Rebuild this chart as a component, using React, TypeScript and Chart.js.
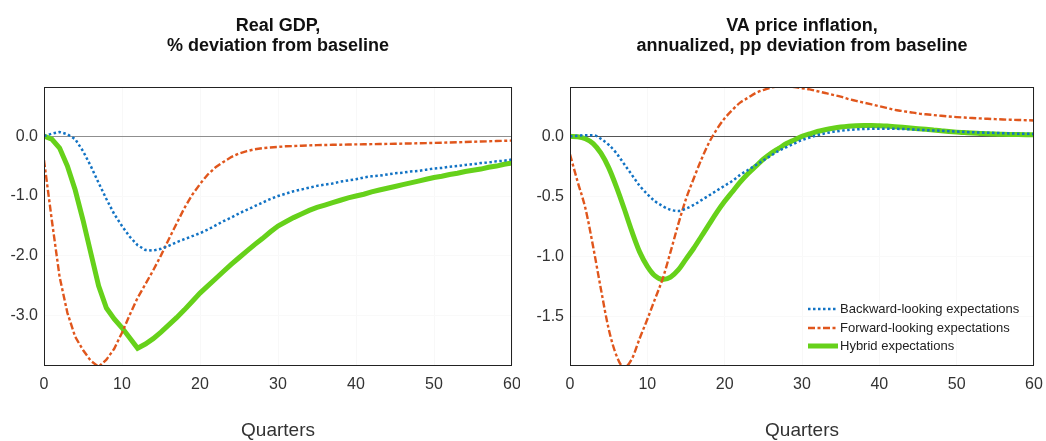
import React, { useEffect, useRef } from "react";
import { Chart, registerables } from "chart.js";

Chart.register(...registerables);

// ---------------- data ----------------
const quarters = [
  0, 1, 2, 3, 4, 5, 6, 7, 8, 9, 10, 11, 12, 13, 14, 15, 16, 17, 18, 19, 20,
  21, 22, 23, 24, 25, 26, 27, 28, 29, 30, 31, 32, 33, 34, 35, 36, 37, 38, 39, 40,
  41, 42, 43, 44, 45, 46, 47, 48, 49, 50, 51, 52, 53, 54, 55, 56, 57, 58, 59, 60,
];

const seriesLabels = [
  "Backward-looking expectations",
  "Forward-looking expectations",
  "Hybrid expectations",
];

// Real GDP, % deviation from baseline
const gdpBackward = [
  0, 0.04, 0.07, 0.03, -0.05, -0.25, -0.5, -0.78, -1.05, -1.3,
  -1.5, -1.68, -1.82, -1.9, -1.91, -1.88, -1.83, -1.77, -1.72, -1.67,
  -1.62, -1.56, -1.49, -1.42, -1.36, -1.29, -1.23, -1.17, -1.11, -1.05,
  -1.0, -0.96, -0.92, -0.89, -0.86, -0.83, -0.81, -0.79, -0.76, -0.74,
  -0.72, -0.69, -0.67, -0.66, -0.64, -0.62, -0.61, -0.59, -0.58, -0.56,
  -0.54, -0.53, -0.51, -0.5, -0.48, -0.47, -0.45, -0.44, -0.42, -0.41,
  -0.39,
];
const gdpForward = [
  -0.4, -1.4, -2.35, -2.95, -3.35, -3.57, -3.75, -3.85, -3.73, -3.55,
  -3.28, -2.98, -2.7, -2.47, -2.24, -1.99, -1.72, -1.46, -1.2, -0.98,
  -0.8, -0.64, -0.52, -0.43, -0.35, -0.29, -0.25, -0.22, -0.2, -0.19,
  -0.18, -0.17, -0.165, -0.16, -0.155, -0.15, -0.148, -0.145, -0.143, -0.14,
  -0.138, -0.136, -0.134, -0.132, -0.13, -0.128, -0.125, -0.122, -0.119, -0.116,
  -0.113, -0.11, -0.106, -0.102, -0.098, -0.094, -0.09, -0.086, -0.082, -0.078,
  -0.074,
];
const gdpHybrid = [
  0, -0.05, -0.2, -0.5, -0.9, -1.4, -1.95, -2.5, -2.87, -3.05,
  -3.2, -3.37, -3.54, -3.47, -3.38, -3.27, -3.15, -3.03, -2.9, -2.76,
  -2.62, -2.5, -2.38, -2.26, -2.14, -2.03, -1.92, -1.81, -1.71, -1.6,
  -1.5, -1.43, -1.36, -1.3, -1.24, -1.19, -1.15, -1.11, -1.07, -1.03,
  -1.0, -0.97, -0.93, -0.9, -0.87, -0.84, -0.81, -0.78, -0.75, -0.72,
  -0.69, -0.67, -0.64, -0.62, -0.59, -0.57, -0.55, -0.52, -0.5, -0.47,
  -0.45,
];

// VA price inflation, annualized, pp deviation from baseline
const inflBackward = [
  0, 0.005, 0.01, 0.01, -0.02, -0.07, -0.14, -0.23, -0.32, -0.41,
  -0.48, -0.54, -0.58, -0.61, -0.62, -0.6, -0.57, -0.53, -0.49, -0.45,
  -0.41, -0.37, -0.32, -0.28, -0.24, -0.2, -0.16, -0.12, -0.09, -0.06,
  -0.03, -0.01, 0.01, 0.025, 0.037, 0.046, 0.053, 0.058, 0.061, 0.063,
  0.064, 0.064, 0.063, 0.061, 0.058, 0.055, 0.052, 0.049, 0.046, 0.043,
  0.04, 0.037, 0.034, 0.032, 0.03, 0.028, 0.026, 0.024, 0.022, 0.021,
  0.02,
];
const inflForward = [
  -0.15, -0.38, -0.6, -0.92, -1.27, -1.6, -1.82, -1.92, -1.85, -1.68,
  -1.52, -1.35, -1.18, -0.96, -0.73, -0.52, -0.35, -0.19, -0.05, 0.06,
  0.15, 0.22, 0.28, 0.32, 0.36, 0.385, 0.405, 0.415, 0.415, 0.41,
  0.4, 0.39, 0.375, 0.36, 0.345, 0.33, 0.31, 0.295, 0.28, 0.265,
  0.25, 0.235, 0.22, 0.21, 0.2, 0.19, 0.183, 0.177, 0.171, 0.165,
  0.16, 0.156, 0.152, 0.149, 0.146, 0.143, 0.14, 0.138, 0.136, 0.134,
  0.132,
];
const inflHybrid = [
  0, -0.003, -0.02, -0.06, -0.14, -0.26, -0.42, -0.6, -0.79, -0.96,
  -1.08, -1.16, -1.19, -1.17, -1.11, -1.02, -0.93, -0.83, -0.73, -0.63,
  -0.54, -0.46, -0.38, -0.31, -0.25, -0.19, -0.14, -0.1, -0.06, -0.03,
  0.0, 0.02, 0.04, 0.055, 0.067, 0.077, 0.084, 0.088, 0.09, 0.09,
  0.088, 0.085, 0.08, 0.075, 0.07, 0.064, 0.058, 0.052, 0.046, 0.04,
  0.035, 0.031, 0.027, 0.024, 0.021, 0.019, 0.017, 0.016, 0.015, 0.014,
  0.013,
];

const xTicks = [0, 10, 20, 30, 40, 50, 60];
const gdpTicks = [0, -1, -2, -3];
const inflTicks = [0, -0.5, -1, -1.5];

const gdpTitle = ["Real GDP,", "% deviation from baseline"];
const inflTitle = ["VA price inflation,", "annualized, pp deviation from baseline"];
const xAxisTitle = "Quarters";

// ---------------- styling ----------------
const FONT = '"Liberation Sans", Arial, Helvetica, sans-serif';
const BLUE = "#1273c4";
const ORANGE = "#e0561c";
const GREEN = "#66d11a";

const decorPlugin = {
  id: "panelDecor",
  beforeDatasetsDraw(chart: any, _args: any, opts: any) {
    const { ctx, chartArea: a, scales } = chart;
    const y0 = Math.round(scales.y.getPixelForValue(0)) + 0.5;
    ctx.save();
    ctx.strokeStyle = opts.zeroColor || "#888";
    ctx.lineWidth = 1;
    ctx.beginPath();
    ctx.moveTo(a.left, y0);
    ctx.lineTo(a.right, y0);
    ctx.stroke();
    ctx.restore();
  },
  afterDraw(chart: any, _args: any, opts: any) {
    const { ctx, chartArea: a, data } = chart;
    ctx.save();
    // frame
    ctx.strokeStyle = "#222";
    ctx.lineWidth = 1;
    ctx.strokeRect(Math.round(a.left) + 0.5, Math.round(a.top) + 0.5, Math.round(a.right - a.left) - 1, Math.round(a.bottom - a.top));
    // title
    const cx = (a.left + a.right) / 2;
    ctx.fillStyle = "#111";
    ctx.font = `bold 18px ${FONT}`;
    ctx.textAlign = "center";
    ctx.textBaseline = "alphabetic";
    (opts.title || []).forEach((line: string, i: number) => {
      ctx.fillText(line, cx, 31 + i * 20);
    });
    // legend
    if (opts.legend) {
      const x0 = a.right - 226;
      const rows = [a.bottom - 56, a.bottom - 37, a.bottom - 19];
      ctx.font = `13px ${FONT}`;
      ctx.textAlign = "left";
      ctx.textBaseline = "middle";
      data.datasets.forEach((ds: any, i: number) => {
        const y = rows[i];
        ctx.save();
        ctx.strokeStyle = ds.borderColor;
        ctx.lineWidth = ds.borderWidth;
        ctx.setLineDash(ds.borderDash || []);
        ctx.beginPath();
        ctx.moveTo(x0, y);
        ctx.lineTo(x0 + 30, y);
        ctx.stroke();
        ctx.restore();
        ctx.fillStyle = "#222";
        ctx.fillText(ds.label, x0 + 32, y + 0.5);
      });
    }
    ctx.restore();
  },
};

type PanelProps = {
  left: number;
  width: number;
  yAxisWidth: number;
  rightPad: number;
  yMin: number;
  yMax: number;
  yTicks: number[];
  backward: number[];
  forward: number[];
  hybrid: number[];
  title: string[];
  zeroColor: string;
  legend: boolean;
  smooth: boolean;
};

function Panel(p: PanelProps) {
  const ref = useRef<HTMLCanvasElement | null>(null);
  useEffect(() => {
    if (!ref.current) return;
    const pts = (arr: number[]) => quarters.map((q, i) => ({ x: q, y: arr[i] }));
    const common = {
      pointRadius: 0,
      pointHoverRadius: 0,
      fill: false,
      tension: p.smooth ? 0.4 : 0,
      cubicInterpolationMode: p.smooth ? ("monotone" as const) : ("default" as const),
    };
    const chart = new Chart(ref.current, {
      type: "line",
      data: {
        datasets: [
          { ...common, label: seriesLabels[0], data: pts(p.backward), borderColor: BLUE, borderWidth: 2.5, borderDash: [2.5, 2.5] },
          { ...common, label: seriesLabels[1], data: pts(p.forward), borderColor: ORANGE, borderWidth: 2.4, borderDash: [7, 2.5, 3, 2.5] },
          { ...common, label: seriesLabels[2], data: pts(p.hybrid), borderColor: GREEN, borderWidth: 5 },
        ],
      },
      options: {
        responsive: false,
        animation: false,
        events: [],
        layout: { padding: { top: 87, right: p.rightPad, left: 0, bottom: 0 } },
        plugins: {
          legend: { display: false },
          title: { display: false },
          tooltip: { enabled: false },
          panelDecor: { title: p.title, zeroColor: p.zeroColor, legend: p.legend },
        } as any,
        scales: {
          x: {
            type: "linear",
            min: 0,
            max: 60,
            afterBuildTicks: (s: any) => {
              s.ticks = xTicks.map((v) => ({ value: v }));
            },
            afterFit: (s: any) => {
              s.height = 76;
              s.paddingLeft = 0;
              s.paddingRight = 0;
            },
            grid: { display: true, color: "#f8f8f8", drawTicks: false },
            border: { display: false },
            ticks: {
              padding: 10,
              color: "#333",
              font: { family: FONT, size: 16 },
              maxRotation: 0,
              autoSkip: false,
              callback: (v: any) => String(v),
            },
            title: {
              display: true,
              text: xAxisTitle,
              color: "#333",
              font: { family: FONT, size: 19, lineHeight: 1 },
              padding: { top: 0, bottom: 1 },
            },
          },
          y: {
            type: "linear",
            min: p.yMin,
            max: p.yMax,
            afterBuildTicks: (s: any) => {
              s.ticks = p.yTicks.map((v) => ({ value: v }));
            },
            afterFit: (s: any) => {
              s.width = p.yAxisWidth;
              s.paddingTop = 0;
              s.paddingBottom = 0;
            },
            grid: { display: true, color: "#f9f9f9", drawTicks: false },
            border: { display: false },
            ticks: {
              padding: 6,
              color: "#333",
              font: { family: FONT, size: 16 },
              autoSkip: false,
              callback: (v: any) => Number(v).toFixed(1),
            },
          },
        },
      },
      plugins: [decorPlugin as any],
    });
    return () => chart.destroy();
  }, []);
  return (
    <canvas
      ref={ref}
      width={p.width}
      height={441}
      style={{ position: "absolute", left: p.left, top: 0, width: p.width, height: 441 }}
    />
  );
}

export default function App() {
  return (
    <div style={{ position: "absolute", left: 0, top: 0, width: 1046, height: 441, background: "#fff", overflow: "hidden" }}>
      <Panel
        left={0}
        width={520}
        yAxisWidth={44}
        rightPad={8}
        yMin={-3.82}
        yMax={0.82}
        yTicks={gdpTicks}
        backward={gdpBackward}
        forward={gdpForward}
        hybrid={gdpHybrid}
        title={gdpTitle}
        zeroColor="#8f8f8f"
        legend={false}
        smooth={false}
      />
      <Panel
        left={520}
        width={526}
        yAxisWidth={50}
        rightPad={12}
        yMin={-1.9}
        yMax={0.41}
        yTicks={inflTicks}
        backward={inflBackward}
        forward={inflForward}
        hybrid={inflHybrid}
        title={inflTitle}
        zeroColor="#555"
        legend={true}
        smooth={true}
      />
    </div>
  );
}
